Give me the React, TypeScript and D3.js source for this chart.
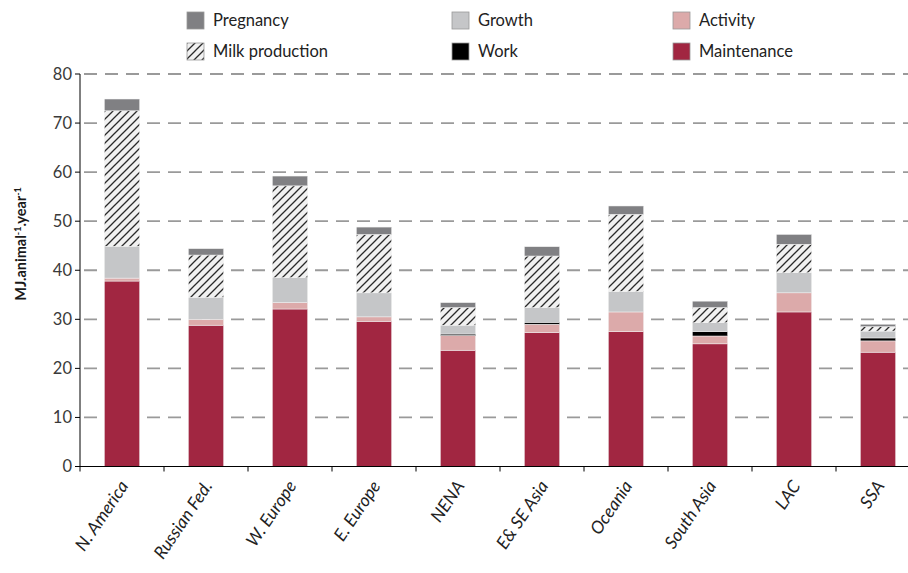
import React from "react";
import * as d3 from "d3";

const categories = ["N. America", "Russian Fed.", "W. Europe", "E. Europe", "NENA", "E& SE Asia", "Oceania", "South Asia", "LAC", "SSA"];
const maintenance = [37.8, 28.8, 32.1, 29.6, 23.7, 27.3, 27.5, 25.0, 31.5, 23.3];
const activity = [0.6, 1.2, 1.3, 0.9, 3.0, 1.7, 4.0, 1.6, 3.9, 2.3];
const work = [0, 0, 0, 0, 0.3, 0.4, 0, 0.9, 0, 0.6];
const growth = [6.5, 4.5, 5.1, 4.9, 1.8, 3.0, 4.2, 1.8, 4.1, 1.4];
const milk = [27.6, 8.6, 18.7, 11.9, 3.6, 10.5, 15.7, 3.1, 5.8, 0.9];
const pregnancy = [2.4, 1.3, 2.0, 1.5, 1.0, 1.9, 1.7, 1.3, 2.0, 0.5];
const yTicks = [0, 10, 20, 30, 40, 50, 60, 70, 80];

const seriesKeys = ["Maintenance", "Activity", "Work", "Growth", "Milk production", "Pregnancy"];
const seriesValues: Record<string, number[]> = {
  Maintenance: maintenance,
  Activity: activity,
  Work: work,
  Growth: growth,
  "Milk production": milk,
  Pregnancy: pregnancy,
};
const fills: Record<string, string> = {
  Maintenance: "#a12641",
  Activity: "#dcaaaa",
  Work: "#000000",
  Growth: "#c5c6c8",
  "Milk production": "url(#hatch)",
  Pregnancy: "#808083",
};

const legendItems = [
  { key: "Pregnancy", col: 0, row: 0 },
  { key: "Growth", col: 1, row: 0 },
  { key: "Activity", col: 2, row: 0 },
  { key: "Milk production", col: 0, row: 1 },
  { key: "Work", col: 1, row: 1 },
  { key: "Maintenance", col: 2, row: 1 },
];

const W = 908, H = 573;
const left = 80, x0 = 80, x1 = 920, yTop = 74, yBot = 466.5;
const FONT = "Lato, 'Open Sans', sans-serif";

export default function App() {
  const table = categories.map((c, i) => {
    const row: any = { cat: c };
    seriesKeys.forEach((k) => (row[k] = seriesValues[k][i]));
    return row;
  });
  const stacked = d3.stack<any>().keys(seriesKeys)(table);
  const xBand = d3.scaleBand<string>().domain(categories).range([x0, x1]).paddingInner(0).paddingOuter(0);
  const xBar = d3.scaleBand<string>().domain(categories).range([x0, x1]).paddingInner(0.58).paddingOuter(0.29);
  const y = d3.scaleLinear().domain([0, 80]).range([yBot, yTop]);
  const legendX = [187, 452, 673];
  const legendY = [12, 43];

  return (
    <svg width={W} height={H} style={{ position: "absolute", left: 0, top: 0, background: "#fff" }} fontFamily={FONT}>
      <defs>
        <pattern id="hatch" patternUnits="userSpaceOnUse" width="8" height="8">
          <rect width="8" height="8" fill="#f1f1f1" />
          <path d="M0,8 L8,0 M-2,2 L2,-2 M6,10 L10,6" stroke="#2a2a2a" strokeWidth="1.3" />
        </pattern>
      </defs>
      {/* gridlines */}
      {yTicks.filter((t) => t > 0).map((t) => (
        <line key={t} x1={left + 4} x2={W} y1={y(t)} y2={y(t)} stroke="#9a9a9a" strokeWidth={1.8} strokeDasharray="13 8" />
      ))}
      {/* bars */}
      {stacked.map((s) => (
        <g key={s.key}>
          {s.map((d, i) => {
            const h = y(d[0]) - y(d[1]);
            if (h <= 0) return null;
            return (
              <rect key={i} x={xBar(categories[i])} width={xBar.bandwidth()} y={y(d[1])} height={h}
                fill={fills[s.key]} stroke="#f4f4f4" strokeWidth={0.5} />
            );
          })}
        </g>
      ))}
      {/* y axis */}
      <line x1={left} x2={left} y1={yTop} y2={yBot} stroke="#000" strokeWidth={1} />
      {yTicks.map((t) => (
        <g key={t}>
          <line x1={left - 5} x2={left} y1={y(t)} y2={y(t)} stroke="#000" strokeWidth={1} />
          <text x={left - 8} y={y(t)} dy="0.36em" textAnchor="end" fontSize={16.5} fill="#3a3a3a">{t}</text>
        </g>
      ))}
      <text transform={`translate(26,244) rotate(-90)`} textAnchor="middle" fontSize={14.5} fontWeight="bold" fill="#1a1a1a">
        MJ.animal<tspan dy="-5" fontSize={9}>-1</tspan><tspan dy="5">.year</tspan><tspan dy="-5" fontSize={9}>-1</tspan>
      </text>
      {/* x axis */}
      <line x1={left} x2={W} y1={yBot} y2={yBot} stroke="#000" strokeWidth={1} />
      {categories.map((c) => (
        <line key={c} x1={xBand(c)} x2={xBand(c)} y1={yBot} y2={yBot + 5} stroke="#000" strokeWidth={1} />
      ))}
      {categories.map((c) => {
        const cx = (xBand(c) as number) + xBand.bandwidth() / 2;
        return (
          <text key={c} transform={`translate(${cx + 2},${yBot + 16}) rotate(-56)`} textAnchor="end" dy="0.35em"
            fontSize={17.5} fontStyle="italic" fill="#222">{c}</text>
        );
      })}
      {/* legend */}
      {legendItems.map((it) => (
        <g key={it.key} transform={`translate(${legendX[it.col]},${legendY[it.row]})`}>
          <rect width={17} height={17} fill={fills[it.key]} stroke="#999" strokeWidth={0.8} />
          <text x={26} y={8.5} dy="0.35em" fontSize={16.5} fill="#222">{it.key}</text>
        </g>
      ))}
    </svg>
  );
}
